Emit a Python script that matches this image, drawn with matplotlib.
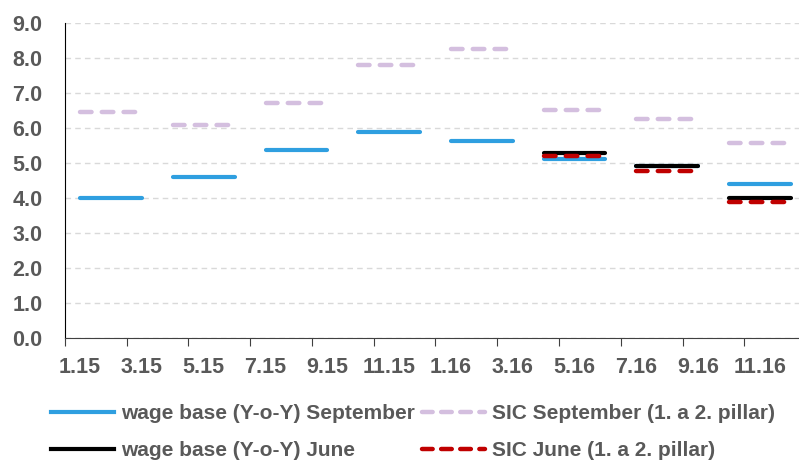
import numpy as np
import matplotlib.pyplot as plt
from matplotlib.lines import Line2D

# quarterly values, each line spans three months
quarters = ['Q1 15', 'Q2 15', 'Q3 15', 'Q4 15', 'Q1 16', 'Q2 16', 'Q3 16', 'Q4 16']
wage_sep = [4.01, 4.61, 5.36, 5.89, 5.62, 5.13, 4.93, 4.41]
sic_sep = [6.47, 6.09, 6.73, 7.79, 8.25, 6.53, 6.27, 5.57]
wage_jun = [np.nan, np.nan, np.nan, np.nan, np.nan, 5.28, 4.91, 4.01]
sic_jun = [np.nan, np.nan, np.nan, np.nan, np.nan, 5.21, 4.77, 3.88]
month_labels = ['1.15', '3.15', '5.15', '7.15', '9.15', '11.15',
                '1.16', '3.16', '5.16', '7.16', '9.16', '11.16']

plt.rcParams['font.family'] = ['Liberation Sans', 'DejaVu Sans']
grey = '#595959'

fig = plt.figure(figsize=(7.99, 4.63), dpi=100)
ax = fig.add_axes([0.081, 0.27, 0.928, 0.68])

series = [
    (wage_sep, '#2f9fe0', 'solid', 'wage base (Y-o-Y) September'),
    (sic_sep, '#d4bfdf', 'dashed', 'SIC September (1. a 2. pillar)'),
    (wage_jun, '#000000', 'solid', 'wage base (Y-o-Y) June'),
    (sic_jun, '#c00000', 'dashed', 'SIC June (1. a 2. pillar)'),
]

handles = {}
for vals, col, style, lab in series:
    for q, v in enumerate(vals):
        if np.isnan(v):
            continue
        x = [q * 3, q * 3 + 2]
        if style == 'dashed':
            ax.plot(x, [v, v], color=col, lw=3.2, dashes=(2.6, 2.3),
                    dash_capstyle='round', solid_capstyle='round')
        else:
            ax.plot(x, [v, v], color=col, lw=3.0, solid_capstyle='round')
    if style == 'dashed':
        h = Line2D([], [], color=col, lw=3.2, dashes=(2.4, 1.9), dash_capstyle='round')
    else:
        h = Line2D([], [], color=col, lw=3.0)
    handles[lab] = h

ax.set_xlim(-0.5, 23.5)
ax.set_ylim(0, 9)
ax.set_yticks(np.arange(0, 9.5, 1.0))
ax.set_yticklabels([f'{v:.1f}' for v in np.arange(0, 9.5, 1.0)],
                   fontsize=15.5, fontweight='bold', color=grey)
ax.tick_params(axis='y', length=0, pad=16)

ax.set_xticks(np.arange(-0.5, 24, 2))
ax.set_xticklabels([])
ax.set_xticks(np.arange(0, 24, 2), minor=True)
ax.set_xticklabels(month_labels, minor=True, fontsize=15.5, fontweight='bold', color=grey)
ax.tick_params(axis='x', which='major', length=6, color='#404040', direction='out')
ax.tick_params(axis='x', which='minor', length=0, pad=14)

ax.grid(axis='y', color='#d9d9d9', linestyle=(0, (4, 3)), lw=1)
ax.set_axisbelow(True)
for s in ['top', 'right']:
    ax.spines[s].set_visible(False)
ax.spines['left'].set_color('#000000')
ax.spines['bottom'].set_color('#404040')

# legend is filled column by column: blue, black | lilac, red
order = ['wage base (Y-o-Y) September', 'wage base (Y-o-Y) June',
         'SIC September (1. a 2. pillar)', 'SIC June (1. a 2. pillar)']
leg = fig.legend([handles[k] for k in order], order,
                 loc='center', bbox_to_anchor=(0.517, 0.067), ncol=2,
                 frameon=False, handlelength=3.0, handletextpad=0.34,
                 columnspacing=0.38, labelspacing=0.85,
                 prop={'size': 15, 'weight': 'bold'})
for t in leg.get_texts():
    t.set_color(grey)

plt.savefig('out.png', dpi=100)
